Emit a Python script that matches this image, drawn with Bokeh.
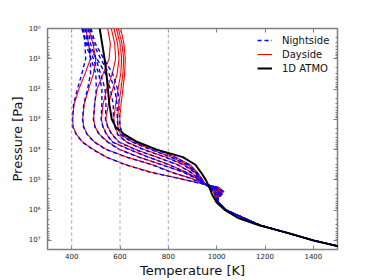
import numpy as np
from bokeh.plotting import figure
from bokeh.models import (Range1d, FixedTicker, LinearAxis, LogAxis, CustomJSTickFormatter,
                          Span, Legend, LegendItem)
from bokeh.embed import file_html
from bokeh.resources import INLINE

# ---------------- data ----------------
# log10 of pressure [Pa] for the 3D GCM profiles
gcm_log_p = [0, 0.5, 1, 1.5, 2, 2.5, 3, 3.25, 3.5, 3.75, 4, 4.25, 4.5, 4.75,
             4.95, 5.1, 5.25, 5.4, 5.55, 5.7, 6, 6.5, 7, 7.2]

# Dayside temperature profiles [K]
day_1 = [458, 470, 478, 455, 430, 410, 404, 406, 420, 445, 490, 545, 625, 730, 845, 925, 1010, 1028, 1010, 1003, 1040, 1180, 1402, 1508]
day_2 = [470, 488, 500, 490, 470, 452, 446, 450, 465, 495, 545, 630, 735, 815, 895, 935, 1003, 1022, 1008, 1002, 1040, 1180, 1402, 1508]
day_3 = [549, 560, 555, 530, 505, 495, 491, 497, 515, 550, 600, 680, 775, 865, 915, 940, 996, 1016, 1006, 1001, 1040, 1180, 1402, 1508]
day_4 = [564, 578, 582, 568, 545, 530, 523, 530, 545, 570, 640, 720, 805, 875, 920, 942, 990, 1010, 1004, 1000, 1040, 1180, 1402, 1508]
day_5 = [575, 590, 596, 588, 570, 552, 541, 550, 568, 597, 665, 755, 840, 895, 925, 944, 984, 1004, 1002, 999, 1040, 1180, 1402, 1508]
day_6 = [585, 600, 607, 603, 592, 582, 574, 580, 592, 628, 700, 790, 865, 910, 930, 946, 978, 998, 999, 998, 1040, 1180, 1402, 1508]
day_7 = [593, 608, 615, 612, 604, 595, 590, 592, 602, 652, 730, 812, 880, 915, 935, 948, 972, 992, 996, 997, 1040, 1180, 1402, 1508]
day_8 = [603, 616, 622, 619, 612, 604, 599, 601, 612, 668, 750, 830, 890, 920, 938, 950, 968, 986, 993, 996, 1040, 1180, 1402, 1508]

# Nightside temperature profiles [K]
night_1 = [450, 455, 458, 442, 424, 408, 403, 405, 419, 444, 488, 543, 622, 726, 842, 924, 1006, 1032, 1013, 1004, 1039, 1179, 1401, 1507]
night_2 = [462, 470, 478, 478, 466, 450, 445, 449, 464, 493, 543, 627, 732, 812, 892, 934, 999, 1026, 1011, 1003, 1040, 1180, 1402, 1508]
night_3 = [445, 458, 480, 500, 502, 495, 490, 496, 514, 548, 598, 677, 772, 862, 913, 939, 992, 1020, 1009, 1002, 1039, 1179, 1401, 1507]
night_4 = [455, 465, 490, 512, 525, 525, 522, 529, 544, 568, 638, 717, 802, 872, 918, 941, 986, 1014, 1007, 1001, 1040, 1180, 1402, 1508]
night_5 = [468, 478, 500, 520, 538, 542, 540, 549, 566, 595, 662, 752, 837, 892, 923, 943, 980, 1008, 1005, 1000, 1039, 1179, 1401, 1507]
night_6 = [442, 460, 505, 540, 560, 572, 573, 579, 590, 625, 697, 787, 862, 908, 928, 945, 974, 1002, 1002, 999, 1040, 1180, 1402, 1508]
night_7 = [475, 490, 520, 555, 578, 588, 589, 591, 601, 649, 727, 809, 877, 913, 933, 947, 968, 996, 999, 998, 1039, 1179, 1401, 1507]
night_8 = [480, 498, 533, 570, 590, 598, 598, 600, 611, 665, 747, 827, 887, 918, 936, 949, 964, 990, 996, 997, 1040, 1180, 1402, 1508]

# 1D ATMO profile
atmo_log_p = [0, 0.5, 1, 1.5, 2, 2.5, 3, 3.25, 3.5, 3.75, 4, 4.25, 4.5, 4.75,
              5, 5.25, 5.5, 5.75, 6, 6.25, 6.5, 6.75, 7, 7.2, 7.3]
atmo_t = [516, 526, 536, 544, 550, 556, 566, 582, 618, 672, 752, 860, 912, 935,
          955, 970, 982, 1000, 1035, 1087, 1175, 1295, 1400, 1505, 1560]

x_ticks = [400, 600, 800, 1000, 1200, 1400]
y_ticks = [1, 10, 100, 1000, 10000, 100000, 1000000, 10000000]
guide_temps = [400, 600, 800]

day_profiles = [day_1, day_2, day_3, day_4, day_5, day_6, day_7, day_8]
night_profiles = [night_1, night_2, night_3, night_4, night_5, night_6, night_7, night_8]

gcm_p = [10 ** v for v in gcm_log_p]
atmo_p = [10 ** v for v in atmo_log_p]

FONT = "DejaVu Sans"
GRAY = "#808080"

p = figure(width=374, height=280, output_backend="svg", toolbar_location=None,
           y_axis_type="log",
           x_range=Range1d(300, 1500), y_range=Range1d(10 ** 7.3, 1),
           min_border_left=47, min_border_right=37, min_border_top=28, min_border_bottom=29)
p.background_fill_color = "white"
p.border_fill_color = "white"
p.outline_line_color = GRAY
p.outline_line_width = 1.5
p.grid.visible = False

for t in guide_temps:
    p.add_layout(Span(location=t, dimension="height", line_color="#aaaaaa",
                      line_dash="3 3", line_width=1.1))

minor = [m * 10 ** d for d in range(0, 8) for m in range(2, 10)]

def style_axis(ax):
    ax.axis_line_color = None
    ax.major_tick_in = 4
    ax.major_tick_out = 0
    ax.minor_tick_in = 2
    ax.minor_tick_out = 0
    ax.major_tick_line_color = GRAY
    ax.minor_tick_line_color = GRAY
    ax.major_label_text_font = FONT
    ax.major_label_text_font_size = "7px"
    ax.major_label_text_color = "#222222"
    ax.axis_label_text_font = FONT
    ax.axis_label_text_font_size = "13px"
    ax.axis_label_text_font_style = "normal"
    ax.axis_label_text_color = "#111111"

sup_fmt = CustomJSTickFormatter(code="""
const s = {'0':'\u2070','1':'\u00b9','2':'\u00b2','3':'\u00b3','4':'\u2074','5':'\u2075','6':'\u2076','7':'\u2077','8':'\u2078','9':'\u2079','-':'\u207b'};
const e = Math.round(Math.log10(tick));
return '10' + String(e).split('').map(c => s[c]).join('');
""")
blank = CustomJSTickFormatter(code="return ''")

xa = p.xaxis[0]
xa.ticker = FixedTicker(ticks=x_ticks)
style_axis(xa)
xa.axis_label = "Temperature [K]"
xa.major_label_standoff = 3
xa.axis_label_standoff = 1

ya = p.yaxis[0]
ya.ticker = FixedTicker(ticks=y_ticks, minor_ticks=minor)
ya.formatter = sup_fmt
style_axis(ya)
ya.axis_label = "Pressure [Pa]"
ya.major_label_standoff = 7
ya.axis_label_standoff = 1

top = LinearAxis(ticker=FixedTicker(ticks=x_ticks), formatter=blank)
style_axis(top)
top.major_label_standoff = 0
p.add_layout(top, "above")
right = LogAxis(ticker=FixedTicker(ticks=y_ticks, minor_ticks=minor), formatter=blank)
style_axis(right)
right.major_label_standoff = 0
p.add_layout(right, "right")

red_r = []
for prof in day_profiles:
    red_r.append(p.line(prof, gcm_p, line_color="#ff0000", line_width=1.1))
blue_r = []
for prof in night_profiles:
    blue_r.append(p.line(prof, gcm_p, line_color="#0000ff", line_width=1.4, line_dash="4 3"))
black_r = p.line(atmo_t, atmo_p, line_color="black", line_width=2)

legend = Legend(items=[LegendItem(label="Nightside", renderers=[blue_r[0]]),
                       LegendItem(label="Dayside", renderers=[red_r[0]]),
                       LegendItem(label="1D ATMO", renderers=[black_r])],
                location=(210, 174))
legend.border_line_color = None
legend.background_fill_alpha = 0
legend.label_text_font = FONT
legend.label_text_font_size = "10px"
legend.label_text_color = "#111111"
legend.glyph_width = 15
legend.glyph_height = 14
legend.label_height = 14
legend.label_standoff = 10
legend.spacing = 0
legend.margin = 0
legend.padding = 5
p.add_layout(legend)

open("out.html", "w").write(file_html(p, INLINE))
